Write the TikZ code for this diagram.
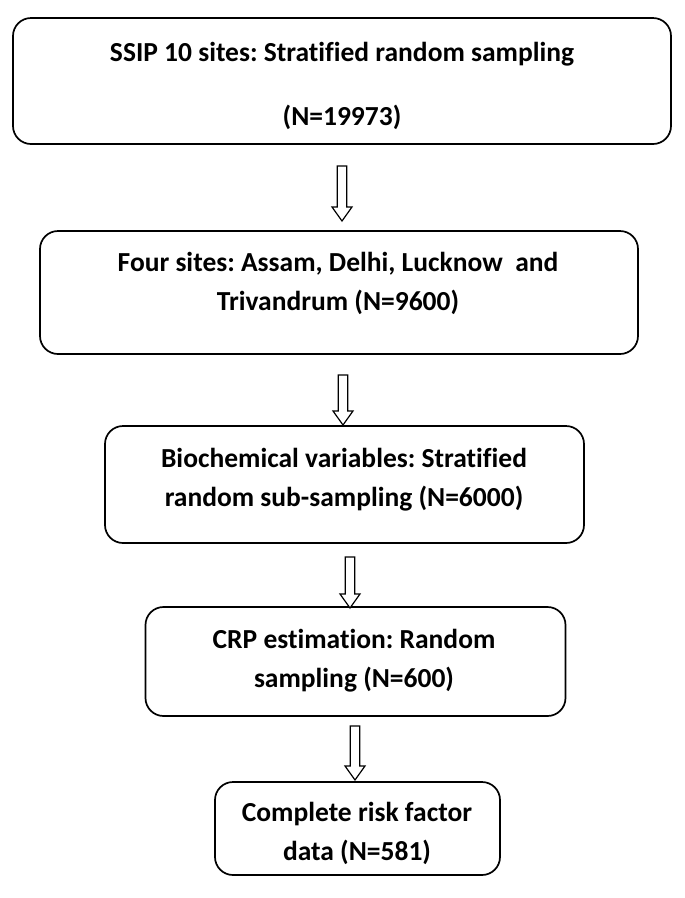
\documentclass[tikz,border=0pt]{standalone}
\usepackage{fontspec}
\setmainfont[Ligatures=NoCommon]{Carlito}
\begin{document}
\frenchspacing
\begin{tikzpicture}[x=1pt,y=-1pt,
  box/.style={draw=black, line width=1.7pt, rounded corners=18pt, fill=white, inner sep=0pt},
  lbl/.style={font=\bfseries\fontsize{27.5}{39}\selectfont, align=center, inner sep=0pt, text depth=0pt},
  blockarrow/.style={draw=black, line width=1.2pt, fill=white, line join=miter}
]
\useasboundingbox (0,0) rectangle (685,898);
% boxes
\node[box, minimum width=658pt, minimum height=126pt] (b1) at (342,81) {};
\node[box, minimum width=598pt, minimum height=123pt] (b2) at (339,292.5) {};
\node[box, minimum width=479pt, minimum height=117pt] (b3) at (344.5,484.5) {};
\node[box, minimum width=420pt, minimum height=109pt] (b4) at (355.5,661.5) {};
\node[box, minimum width=285pt, minimum height=93pt] (b5) at (357.5,828.5) {};
% texts
\node[lbl] (t1) at (342,84) {SSIP 10 sites: Stratified random sampling\\[25pt](N=19973)};
\node[lbl] (t2) at (338,281) {Four sites: Assam, Delhi, Lucknow\ \ and\\Trivandrum (N=9600)};
\node[lbl] (t3) at (344,477) {Biochemical variables: Stratified\\random sub-sampling (N=6000)};
\node[lbl] (t4) at (354,658) {CRP estimation: Random\\sampling (N=600)};
\node[lbl] (t5) at (357,831) {Complete risk factor\\data (N=581)};
% block arrows
\newcommand{\blockarr}[3]{% x centre, y top, y tip
  \draw[blockarrow] (#1-4.7,#2) -- (#1+4.7,#2) -- (#1+4.7,#3-14) -- (#1+10,#3-14) -- (#1,#3) -- (#1-10,#3-14) -- (#1-4.7,#3-14) -- cycle;}
\blockarr{342}{166}{221}
\blockarr{343}{375}{425}
\blockarr{350}{557}{608}
\blockarr{355}{726}{780}
\end{tikzpicture}
\end{document}
